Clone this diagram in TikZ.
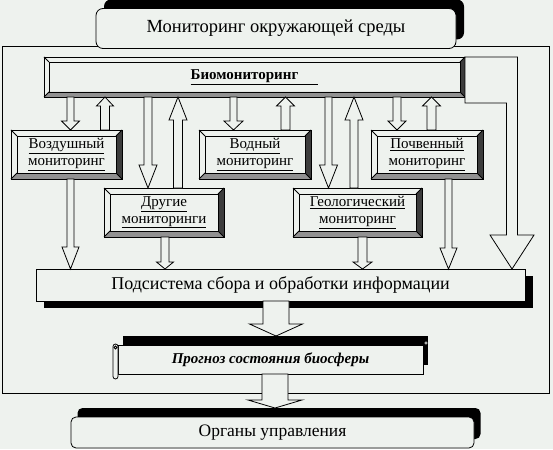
\documentclass[tikz,border=0pt]{standalone}
\usepackage{fontspec}
\setmainfont{Liberation Serif}
\usepackage{xcolor}
\usepackage{tikz}
\usetikzlibrary{calc,shadows}

\definecolor{paper}{RGB}{238,242,238}
\definecolor{bevdark}{RGB}{60,60,60}
\definecolor{bevgray}{RGB}{145,145,145}

\newcommand{\fsz}[2]{\fontsize{#1}{#2}\selectfont}

% raised frame round a node: #1 node, #2 depth
\newcommand{\bevel}[2]{%
  \fill[bevdark] (#1.north east) -- (#1.south east) -- ([shift={(-#2,-#2)}]#1.south east)
    -- ([shift={(-#2,#2)}]#1.north east) -- cycle;
  \fill[bevgray] (#1.south west) -- (#1.south east) -- ([shift={(-#2,-#2)}]#1.south east)
    -- ([shift={(#2,-#2)}]#1.south west) -- cycle;
  \draw ([shift={(#2,#2)}]#1.north west) rectangle ([shift={(-#2,-#2)}]#1.south east);
  \draw (#1.north west) -- ([shift={(#2,#2)}]#1.north west)
        (#1.north east) -- ([shift={(-#2,#2)}]#1.north east)
        (#1.south west) -- ([shift={(#2,-#2)}]#1.south west)
        (#1.south east) -- ([shift={(-#2,-#2)}]#1.south east);
  \draw (#1.north west) rectangle (#1.south east);
}

% hollow block arrow: #1 from, #2 to, #3 x, #4 shaft half, #5 head half, #6 head length
\newcommand{\blockarrow}[6]{%
  \draw[blockarr] let \p1=(#1), \p2=(#2), \p3=(#3,0),
      \n1={\y2+(1-2*(\y2>\y1))*#6pt} in
    (\x3-#4pt,\y1) -- (\x3-#4pt,\n1*1pt) -- (\x3-#5pt,\n1*1pt) -- (\x3,\y2)
    -- (\x3+#5pt,\n1*1pt) -- (\x3+#4pt,\n1*1pt) -- (\x3+#4pt,\y1) -- cycle;
}

\tikzset{
  monbox/.style={rectangle, draw=black, fill=paper, minimum height=49pt,
    align=center, font=\fsz{15}{16.5}, inner sep=0pt, outer sep=0pt},
  flatbox/.style={rectangle, draw=black, fill=paper, align=center,
    inner sep=0pt, outer sep=0pt},
  blockarr/.style={draw=black, fill=paper, line join=miter},
  blackshadow/.style 2 args={drop shadow={shadow xshift=#1, shadow yshift=#2,
    fill=black, opacity=1}},
}

\begin{document}
\begin{tikzpicture}[x=1pt, y=-1pt, line width=0.8pt]

  % ============ Page and outer frame ============
  \fill[paper] (0,0) rectangle (553,449);
  \useasboundingbox (0,0) rectangle (553,449);
  \node[flatbox, fill=none, minimum width=547pt, minimum height=347pt] (frame) at (275.5,219.5) {};

  % ============ Title ============
  \node[flatbox, rounded corners=7pt, minimum width=360pt, minimum height=40pt,
    font=\fsz{18.5}{20}, blackshadow={8pt}{9pt}] (title) at (276,28.5)
    {Мониторинг окружающей среды};

  % ============ Biomonitoring bar ============
  \node[monbox, minimum width=421pt, minimum height=40pt, font=\bfseries\fsz{15}{17}]
    (bio) at (254.5,77) {\underline{Биомониторинг\hspace{20pt}}};
  \bevel{bio}{5}

  % ============ Row of monitorings ============
  \node[monbox, minimum width=111pt] (air)   at ( 66.5,154.5) {\underline{Воздушный}\\\underline{мониторинг}};
  \node[monbox, minimum width=112pt] (water) at (255,  154.5) {\underline{Водный}\\\underline{мониторинг}};
  \node[monbox, minimum width=112pt] (soil)  at (427,  154.5) {\underline{Почвенный}\\\underline{мониторинг}};
  \node[monbox, minimum width=120pt] (other) at (164,  212.5) {\underline{Другие}\\\underline{мониторинги}};
  \node[monbox, minimum width=129pt] (geo)   at (357.5,212.5) {\underline{Геологический}\\\underline{мониторинг}};
  \bevel{air}{6}
  \bevel{water}{6}
  \bevel{soil}{6}
  \bevel{other}{6}
  \bevel{geo}{6}

  % ============ Lower boxes ============
  \node[flatbox, minimum width=489pt, minimum height=32pt, font=\fsz{18}{20},
    blackshadow={8pt}{-7pt}] (sub) at (280.5,285)
    {Подсистема сбора и обработки информации};

  \node[flatbox, minimum width=305pt, minimum height=29pt, font=\bfseries\itshape\fsz{15}{17},
    drop shadow={shadow xshift=5pt, shadow yshift=9.5pt, fill=black, opacity=1,
      rounded corners=3pt}] (prog) at (270.5,359.5)
    {Прогноз состояния биосферы};
  % scroll ends
  \draw[fill=paper, rounded corners=2.5pt] ([xshift=-5pt,yshift=1pt]prog.north west)
    rectangle ([yshift=-5pt]prog.south west);
  \draw ([xshift=-2.5pt,yshift=-2.5pt]prog.north west) circle (1.5pt);
  \draw[paper, line width=0.6pt] ([xshift=3pt,yshift=2pt]prog.north east) circle (1.3pt);

  \node[flatbox, rounded corners=5pt, minimum width=403pt, minimum height=31pt,
    font=\fsz{17.5}{19}, blackshadow={6.5pt}{9pt}] (organ) at (272.5,432.5)
    {Органы управления};

  % ============ Bar <-> monitorings ============
  \blockarrow{bio.south}{air.north}{70.5}{3.5}{9}{9}
  \blockarrow{air.north}{bio.south}{105}{4.5}{8.5}{9}
  \blockarrow{bio.south}{other.north}{148}{4}{9}{23}
  \blockarrow{other.north}{bio.south}{178}{4.5}{9}{23}
  \blockarrow{bio.south}{water.north}{233.5}{3.5}{9.5}{9}
  \blockarrow{water.north}{bio.south}{285.5}{4.5}{9}{9}
  \blockarrow{bio.south}{geo.north}{328.5}{3.5}{9}{23}
  \blockarrow{geo.north}{bio.south}{354}{4}{9}{23}
  \blockarrow{bio.south}{soil.north}{397}{4}{9}{9}
  \blockarrow{soil.north}{bio.south}{431.5}{4.5}{9}{9}

  % ============ Monitorings -> subsystem ============
  \blockarrow{air.south}{sub.north}{70.5}{3.5}{8.5}{22}
  \blockarrow{other.south}{sub.north}{165}{4}{8.5}{7}
  \blockarrow{geo.south}{sub.north}{362.5}{4.5}{9.5}{7}
  \blockarrow{soil.south}{sub.north}{448.5}{3.5}{8.5}{21}

  % bar -> subsystem, round the right side
  \draw[blockarr] let \p1=(bio.north east), \p2=(bio.south east), \p3=(sub.north),
      \p4=(512,235) in
    (\p1) -- (\x4+5.5pt,\y1) -- (\x4+5.5pt,\y4) -- (\x4+22pt,\y4) -- (\x4,\y3)
    -- (\x4-22pt,\y4) -- (\x4-5.5pt,\y4) -- (\x4-5.5pt,\y2-6pt) -- (\x2,\y2-6pt) -- cycle;

  % ============ Subsystem -> forecast -> management ============
  \blockarrow{sub.south}{[yshift=9pt]prog.north}{276}{13}{26.5}{12}
  \blockarrow{prog.south}{[yshift=9pt]organ.north}{275}{13}{27}{8}

\end{tikzpicture}
\end{document}
